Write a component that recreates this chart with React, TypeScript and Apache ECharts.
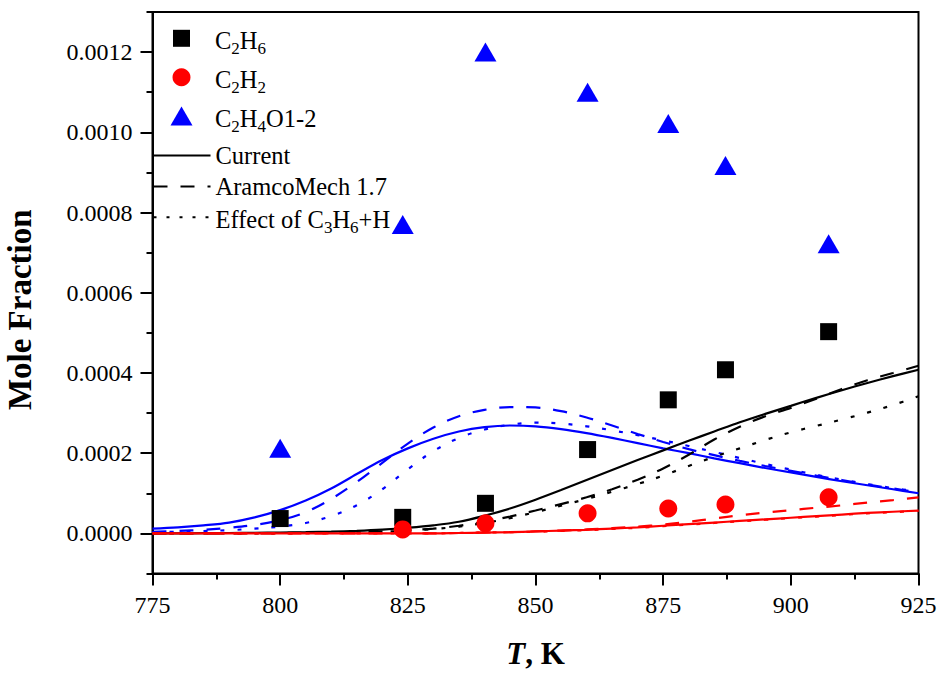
import React, { useEffect, useRef } from "react";
import * as echarts from "echarts";

const FONT = "Liberation Serif";

// Temperature grid for model curves (K)
const T_GRID = [775, 780, 785, 790, 795, 800, 805, 810, 815, 820, 825, 830, 835, 840, 845, 850, 855, 860, 865, 870, 875, 880, 885, 890, 895, 900, 905, 910, 915, 920, 925];

// Experimental points
const EXP_T_C2H6 = [800, 824, 840.2, 860.2, 876, 887.2, 907.4];
const EXP_C2H6 = [0.000037, 0.00004, 0.000075, 0.000209, 0.000333, 0.000408, 0.000503];
const EXP_T_C2H2 = [824, 840.2, 860.2, 876, 887.2, 907.4];
const EXP_C2H2 = [0.00001, 0.000025, 0.00005, 0.000062, 0.000072, 0.00009];
const EXP_T_C2H4O = [800, 824, 840.2, 860.2, 876, 887.2, 907.4];
const EXP_C2H4O = [0.000212, 0.00077, 0.0012, 0.0011, 0.001022, 0.000917, 0.000722];

// Model: C2H4O1-2 (blue)
const C2H4O_CURRENT = [0.000012, 0.000015, 0.00002, 0.000027, 0.00004, 0.000058, 0.000082, 0.000112, 0.000148, 0.000183, 0.000212, 0.000236, 0.000254, 0.000265, 0.000269, 0.000267, 0.00026, 0.00025, 0.000238, 0.000225, 0.000212, 0.0002, 0.000187, 0.000175, 0.000163, 0.000152, 0.000141, 0.00013, 0.00012, 0.00011, 0.0001];
const C2H4O_ARAMCO = [0.000004, 0.000006, 0.000009, 0.000014, 0.000021, 0.000033, 0.000053, 0.000086, 0.000128, 0.000176, 0.000224, 0.000264, 0.000292, 0.000308, 0.000315, 0.000314, 0.000305, 0.000289, 0.000269, 0.000248, 0.000228, 0.00021, 0.000195, 0.000181, 0.000168, 0.000156, 0.000144, 0.000133, 0.000122, 0.000112, 0.000102];
const C2H4O_EFFECT = [0.000003, 0.000004, 0.000006, 0.000008, 0.000012, 0.000017, 0.000026, 0.000043, 0.00007, 0.00011, 0.00016, 0.000205, 0.000238, 0.000259, 0.000271, 0.000276, 0.000274, 0.000267, 0.000257, 0.000245, 0.000232, 0.000218, 0.000203, 0.000188, 0.000173, 0.000159, 0.000146, 0.000134, 0.000123, 0.000113, 0.000104];

// Model: C2H6 (black)
const C2H6_CURRENT = [0, 0, 0.0000005, 0.000001, 0.0000015, 0.000002, 0.000003, 0.0000045, 0.0000065, 0.0000095, 0.000014, 0.00002, 0.000029, 0.000044, 0.000062, 0.000084, 0.000108, 0.000133, 0.000158, 0.000183, 0.000207, 0.000231, 0.000254, 0.000277, 0.000298, 0.000318, 0.000338, 0.000357, 0.000375, 0.000392, 0.000408];
const C2H6_ARAMCO = [0, 0, 0, 0, 0.0000005, 0.000001, 0.0000015, 0.000002, 0.000003, 0.000005, 0.000008, 0.000012, 0.000019, 0.000029, 0.000042, 0.000057, 0.000073, 0.00009, 0.00011, 0.000134, 0.000162, 0.000196, 0.000234, 0.000266, 0.000292, 0.000313, 0.000336, 0.00036, 0.000382, 0.0004, 0.000418];
const C2H6_EFFECT = [0, 0, 0, 0, 0, 0.0000005, 0.000001, 0.0000015, 0.000002, 0.000004, 0.000007, 0.000011, 0.000017, 0.000026, 0.000038, 0.000053, 0.000069, 0.000086, 0.000104, 0.000123, 0.000144, 0.000168, 0.000191, 0.000212, 0.000233, 0.000252, 0.000268, 0.000284, 0.000301, 0.00032, 0.000342];

// Model: C2H2 (red)
const C2H2_CURRENT = [0, 0, 0, 0, 0, 0, 0, 0, 0, 0, 0, 0, 0.000001, 0.000002, 0.000003, 0.000005, 0.000007, 0.000009, 0.000012, 0.000015, 0.000019, 0.000023, 0.000027, 0.000031, 0.000035, 0.000039, 0.000043, 0.000047, 0.000051, 0.000054, 0.000057];
const C2H2_ARAMCO = [0, 0, 0, 0, 0, 0, 0, 0, 0, 0, 0, 0, 0.000001, 0.000002, 0.000003, 0.000005, 0.000007, 0.00001, 0.000013, 0.000017, 0.000022, 0.000029, 0.000037, 0.000045, 0.000052, 0.000058, 0.000064, 0.00007, 0.000077, 0.000083, 0.00009];
const C2H2_EFFECT = [0, 0, 0, 0, 0, 0, 0, 0, 0, 0, 0, 0, 0.000001, 0.000002, 0.000003, 0.000004, 0.000006, 0.000008, 0.000011, 0.000014, 0.000018, 0.000022, 0.000026, 0.00003, 0.000034, 0.000038, 0.000042, 0.000046, 0.00005, 0.000053, 0.000056];

// Axis ticks
const X_MIN = 775;
const X_MAX = 925;
const X_INTERVAL = 25;
const Y_MIN = -0.0001;
const Y_MAX = 0.0013;
const Y_MAJOR = [0, 0.0002, 0.0004, 0.0006, 0.0008, 0.001, 0.0012];
const Y_MINOR = [-0.0001, 0.0001, 0.0003, 0.0005, 0.0007, 0.0009, 0.0011, 0.0013];

const LEGEND_RICH_TEXT: Record<string, string> = {
  C2H6: "{g| }{n|C}{s|2}{n|H}{s|6}",
  C2H2: "{g| }{n|C}{s|2}{n|H}{s|2}",
  "C2H4O1-2": "{g| }{n|C}{s|2}{n|H}{s|4}{n|O1-2}",
  Current: "{p|Current}",
  "AramcoMech 1.7": "{p|AramcoMech 1.7}",
  "Effect of C3H6+H": "{n|Effect of C}{s|3}{n|H}{s|6}{n|+H}",
};

const DASH = [14, 13];
const DOT = [4, 13];
const LINE_W = 2.2;

function pairs(xs: number[], ys: number[]) {
  return xs.map((x, i) => [x, ys[i]]);
}

export default function App() {
  const ref = useRef<HTMLDivElement>(null);

  useEffect(() => {
    if (!ref.current) return;
    const chart = echarts.init(ref.current, undefined, { renderer: "svg" });

    const GRID_LEFT = 152.5;
    const ICON_CX = 181.5; // centre of legend symbols
    const TEXT_X = 215; // left edge of legend text

    const makeRich = (gap: number) => ({
      g: { width: gap, fontSize: 10, lineHeight: 24 },
      n: { fontFamily: FONT, fontSize: 24.5, color: "#000", lineHeight: 24, verticalAlign: "top", padding: [1.5, 0, 0, 0] },
      s: { fontFamily: FONT, fontSize: 17, color: "#000", lineHeight: 17, verticalAlign: "top", padding: [14, 0, 0, 0] },
      p: { fontFamily: FONT, fontSize: 24.5, color: "#000", lineHeight: 24 },
    });

    const symbolLegend = (name: string, iconCy: number, w: number, h: number, icon?: string) => {
      const left = ICON_CX - w / 2;
      const gap = Math.max(0, TEXT_X - (left + w + 5));
      return {
        data: [{ name, ...(icon ? { icon } : {}) }],
        left,
        top: iconCy - 12,
        orient: "vertical",
        padding: 0,
        itemWidth: w,
        itemHeight: h,
        selectedMode: false,
        formatter: (n: string) => LEGEND_RICH_TEXT[n] ?? n,
        textStyle: { fontFamily: FONT, fontSize: 24.5, color: "#000", rich: makeRich(gap) },
      };
    };

    const lineLegend = (name: string, iconCy: number, lineType?: any) => ({
      data: [{ name, itemStyle: { opacity: 0 } }],
      left: GRID_LEFT,
      top: iconCy - 12,
      orient: "vertical",
      padding: 0,
      itemWidth: 57,
      itemHeight: 14,
      selectedMode: false,
      formatter: (n: string) => LEGEND_RICH_TEXT[n] ?? n,
      textStyle: { fontFamily: FONT, fontSize: 24.5, color: "#000", rich: makeRich(0) },
      ...(lineType ? { lineStyle: { type: lineType } } : {}),
    });

    const lineSeries = (name: string, ys: number[], color: string, type: any) => ({
      name,
      type: "line",
      data: pairs(T_GRID, ys),
      symbol: "none",
      showSymbol: false,
      smooth: 0.35,
      lineStyle: { color, width: LINE_W, type },
      itemStyle: { color },
      z: 2,
    });

    const option: any = {
      animation: false,
      backgroundColor: "#fff",
      textStyle: { fontFamily: FONT },
      grid: {
        left: GRID_LEFT,
        right: 23.5,
        top: 12,
        bottom: 101.5,
        containLabel: false,
        outerBoundsMode: "none",
        show: true,
        borderColor: "#000",
        borderWidth: 2,
        backgroundColor: "transparent",
      },
      legend: [
        symbolLegend("C2H6", 38.3, 17, 17),
        symbolLegend("C2H2", 77.3, 18, 18),
        symbolLegend("C2H4O1-2", 116, 22, 19, "path://M0,19L11,0L22,19Z"),
        lineLegend("Current", 155),
        lineLegend("AramcoMech 1.7", 186),
        lineLegend("Effect of C3H6+H", 217.3, [3, 10]),
      ],
      xAxis: {
        type: "value",
        min: X_MIN,
        max: X_MAX,
        interval: X_INTERVAL,
        position: "bottom",
        axisLine: { show: true, onZero: false, lineStyle: { color: "#000", width: 2 } },
        axisTick: { show: true, inside: false, length: 12, lineStyle: { color: "#000", width: 2 } },
        minorTick: { show: true, splitNumber: 2, length: 6, lineStyle: { color: "#000", width: 2 } },
        splitLine: { show: false },
        axisLabel: { fontFamily: FONT, fontSize: 24, color: "#000", margin: 19 },
        name: "{i|T}, K",
        nameLocation: "middle",
        nameGap: 64,
        nameTextStyle: {
          fontFamily: FONT,
          fontSize: 31,
          fontWeight: "bold",
          color: "#000",
          rich: {
            i: { fontFamily: FONT, fontSize: 31, fontWeight: "bold", fontStyle: "italic", color: "#000" },
          },
        },
      },
      yAxis: [
        {
          type: "value",
          min: Y_MIN,
          max: Y_MAX,
          position: "left",
          axisLine: { show: true, onZero: false, lineStyle: { color: "#000", width: 2 } },
          axisTick: { show: true, inside: false, length: 12, customValues: Y_MAJOR, lineStyle: { color: "#000", width: 2 } },
          axisLabel: {
            customValues: Y_MAJOR,
            formatter: (v: number) => v.toFixed(4),
            fontFamily: FONT,
            fontSize: 24,
            color: "#000",
            margin: 20,
          },
          splitLine: { show: false },
          name: "Mole Fraction",
          nameLocation: "middle",
          nameGap: 116,
          nameTextStyle: { fontFamily: FONT, fontSize: 33, fontWeight: "bold", color: "#000", padding: [0, 34, 0, 0] },
        },
        {
          type: "value",
          min: Y_MIN,
          max: Y_MAX,
          position: "left",
          axisLine: { show: false },
          axisTick: { show: true, inside: false, length: 6, customValues: Y_MINOR, lineStyle: { color: "#000", width: 2 } },
          axisLabel: { show: false },
          splitLine: { show: false },
        },
      ],
      series: [
        // legend-only line-style entries
        { name: "Current", type: "line", data: [], symbol: "none", lineStyle: { color: "#000", width: LINE_W, type: "solid" }, itemStyle: { color: "#000" } },
        { name: "AramcoMech 1.7", type: "line", data: [], symbol: "none", lineStyle: { color: "#000", width: LINE_W, type: DASH }, itemStyle: { color: "#000" } },
        { name: "Effect of C3H6+H", type: "line", data: [], symbol: "none", lineStyle: { color: "#000", width: LINE_W, type: DOT }, itemStyle: { color: "#000" } },

        lineSeries("C2H4O1-2 Current", C2H4O_CURRENT, "#0000ff", "solid"),
        lineSeries("C2H4O1-2 AramcoMech 1.7", C2H4O_ARAMCO, "#0000ff", DASH),
        lineSeries("C2H4O1-2 Effect", C2H4O_EFFECT, "#0000ff", DOT),
        lineSeries("C2H6 Current", C2H6_CURRENT, "#000000", "solid"),
        lineSeries("C2H6 AramcoMech 1.7", C2H6_ARAMCO, "#000000", DASH),
        lineSeries("C2H6 Effect", C2H6_EFFECT, "#000000", DOT),
        lineSeries("C2H2 Current", C2H2_CURRENT, "#ff0000", "solid"),
        lineSeries("C2H2 AramcoMech 1.7", C2H2_ARAMCO, "#ff0000", DASH),
        lineSeries("C2H2 Effect", C2H2_EFFECT, "#ff0000", DOT),

        {
          name: "C2H6",
          type: "scatter",
          data: pairs(EXP_T_C2H6, EXP_C2H6),
          symbol: "rect",
          symbolSize: 17,
          itemStyle: { color: "#000000", opacity: 1 },
          z: 3,
        },
        {
          name: "C2H2",
          type: "scatter",
          data: pairs(EXP_T_C2H2, EXP_C2H2),
          symbol: "circle",
          symbolSize: 18,
          itemStyle: { color: "#ff0000", opacity: 1 },
          z: 3,
        },
        {
          name: "C2H4O1-2",
          type: "scatter",
          data: pairs(EXP_T_C2H4O, EXP_C2H4O),
          symbol: "triangle",
          symbolSize: [22, 19],
          itemStyle: { color: "#0000ff", opacity: 1 },
          z: 3,
        },
      ],
    };

    chart.setOption(option);
    return () => chart.dispose();
  }, []);

  return (
    <div
      ref={ref}
      style={{ position: "absolute", left: 0, top: 0, width: 942, height: 675, background: "#fff" }}
    />
  );
}
